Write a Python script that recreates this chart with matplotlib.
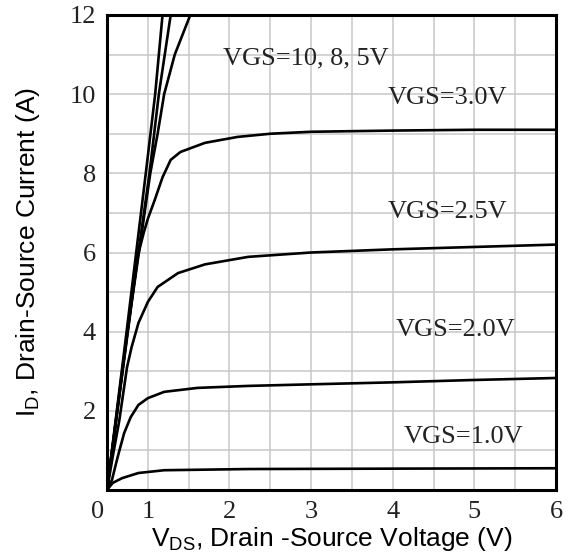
import numpy as np
import matplotlib
matplotlib.use('Agg')
import matplotlib.pyplot as plt
from matplotlib.ticker import FixedLocator
from matplotlib.transforms import ScaledTranslation

# Output characteristics
vds_10v = [0, 0.48, 0.95, 1.09, 1.18]
id_10v = [0, 4.0, 8.0, 10.0, 12.0]

vds_8v = [0, 0.5, 1.02, 1.135, 1.28]
id_8v = [0, 4.0, 8.0, 10.0, 12.0]

vds_5v = [0, 0.6, 1.03, 1.12, 1.2, 1.33, 1.52]
id_5v = [0, 4.7, 8.0, 9.0, 10.0, 11.0, 12.0]

vds_3v = [0, 0.4, 0.75, 0.9, 1.0, 1.085, 1.18, 1.28, 1.4, 1.7, 2.1, 2.5, 3, 4, 5, 6]
id_3v = [0, 3.2, 5.9, 6.5, 6.85, 7.33, 7.9, 8.34, 8.54, 8.77, 8.92, 9.0, 9.05, 9.08, 9.1, 9.1]

vds_25v = [0, 0.15, 0.3, 0.49, 0.6, 0.77, 1.0, 1.12, 1.37, 1.7, 2.23, 3, 4, 5, 6]
id_25v = [0, 0.9, 1.75, 3.1, 3.6, 4.22, 4.75, 5.13, 5.48, 5.7, 5.89, 6.0, 6.08, 6.14, 6.2]

vds_2v = [0, 0.12, 0.26, 0.42, 0.58, 0.77, 1.0, 1.2, 1.61, 2.23, 3, 4, 5, 6]
id_2v = [0, 0.25, 0.83, 1.44, 1.84, 2.15, 2.32, 2.48, 2.58, 2.63, 2.67, 2.72, 2.78, 2.83]

vds_1v = [0, 0.14, 0.37, 0.77, 1.2, 2.23, 4, 6]
id_1v = [0, 0.18, 0.3, 0.43, 0.5, 0.53, 0.54, 0.55]

curves = [(vds_10v, id_10v), (vds_8v, id_8v), (vds_5v, id_5v), (vds_3v, id_3v),
          (vds_25v, id_25v), (vds_2v, id_2v), (vds_1v, id_1v)]

labels = ['VGS=10, 8, 5V', 'VGS=3.0V', 'VGS=2.5V', 'VGS=2.0V', 'VGS=1.0V']
label_x = [1.92, 3.94, 3.94, 4.04, 4.13]
label_y = [10.9, 9.9, 7.02, 4.04, 1.34]

x_ticks = [0, 1, 2, 3, 4, 5, 6]
x_minor = [1.5, 2.5, 3.5, 4.5, 5.5]
y_ticks = [2, 4, 6, 8, 10, 12]
y_minor = [1, 3, 5, 7, 9, 11]


# the datasheet squeezes 0..1 V into half a grid cell
def fwd(x):
    x = np.asarray(x, dtype=float)
    return np.where(x < 1, x * 0.5, x - 0.5)


def inv(y):
    y = np.asarray(y, dtype=float)
    return np.where(y < 0.5, y * 2.0, y + 0.5)


tick_font = 'Liberation Serif'
label_font = 'Liberation Sans'

fig = plt.figure(figsize=(5.68, 5.59), dpi=100)
ax = fig.add_axes([0.1884, 0.1234, 0.7905, 0.8498])
ax.set_xscale('function', functions=(fwd, inv))
ax.set_xlim(0, 6)
ax.set_ylim(0, 12)

ax.xaxis.set_major_locator(FixedLocator(x_ticks))
ax.xaxis.set_minor_locator(FixedLocator(x_minor))
ax.yaxis.set_major_locator(FixedLocator(y_ticks))
ax.yaxis.set_minor_locator(FixedLocator(y_minor))
ax.set_xticklabels([str(t) for t in x_ticks])
ax.set_yticklabels([str(t) for t in y_ticks])
ax.grid(True, which='both', color='#c8c8c8', linewidth=1.1)
ax.set_axisbelow(True)
ax.tick_params(which='both', length=0)
ax.tick_params(axis='x', pad=8)
ax.tick_params(axis='y', pad=8)
for lab in ax.get_xticklabels() + ax.get_yticklabels():
    lab.set_fontfamily(tick_font)
    lab.set_fontsize(19)
    lab.set_color('#222222')

# the "0" sits a little left of the corner in the original
zero = ax.get_xticklabels()[0]
zero.set_transform(zero.get_transform() + ScaledTranslation(-9 / 100, 0, fig.dpi_scale_trans))

for spine in ax.spines.values():
    spine.set_linewidth(2.2)
    spine.set_color('black')

for xs, ys in curves:
    ax.plot(xs, ys, color='black', linewidth=1.9, solid_capstyle='round',
            solid_joinstyle='round')

for txt, lx, ly in zip(labels, label_x, label_y):
    ax.text(lx, ly, txt, fontfamily=tick_font, fontsize=19, color='#222222',
            ha='left', va='center')

ax.set_xlabel(r'V$_\mathregular{DS}$, Drain -Source Voltage (V)',
              fontfamily=label_font, fontsize=19, labelpad=1)
ax.set_ylabel(r'I$_\mathregular{D}$, Drain-Source Current (A)',
              fontfamily=label_font, fontsize=19, labelpad=20)

fig.savefig('out.png', dpi=100)
